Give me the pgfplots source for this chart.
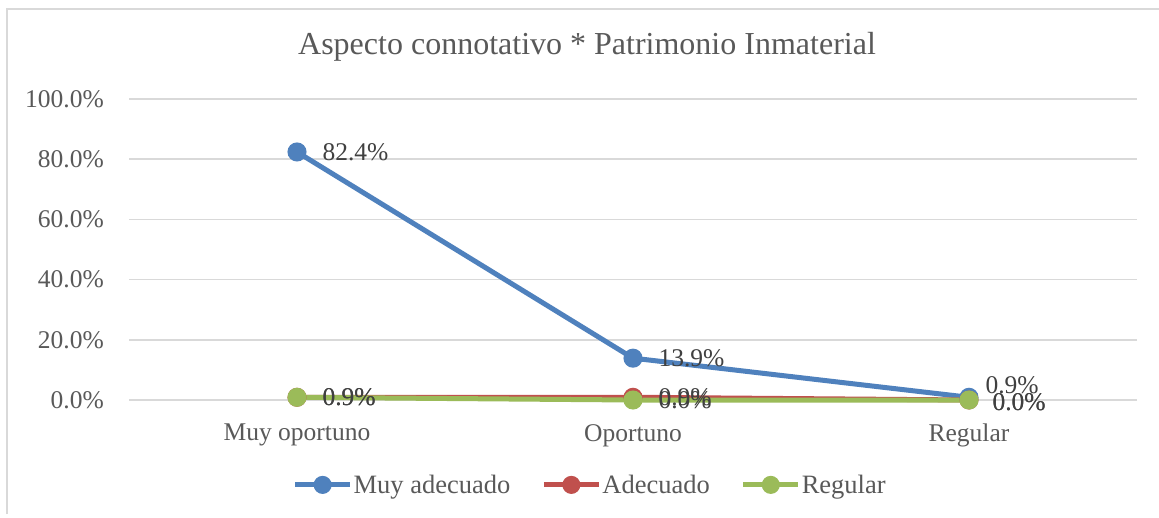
\documentclass[border=0pt]{standalone}
\usepackage{pgfplots}
\pgfplotsset{compat=1.18}
\usepackage{pgfplotstable}
\usepackage{fontspec}
\setmainfont{Liberation Serif}
\definecolor{cblue}{RGB}{79,129,189}
\definecolor{cred}{RGB}{192,80,77}
\definecolor{cgreen}{RGB}{155,187,89}
\definecolor{ctext}{RGB}{89,89,89}
\definecolor{clabel}{RGB}{64,64,64}
\definecolor{cgrid}{RGB}{217,217,217}

\pgfplotstableread{
x y dx dy
0 82.4 23 0
1 13.9 23 0
2 0.9 14 12
}\tblMuy
\pgfplotstableread{
x y dx dy
0 0.9 23 0
1 0.9 23 0
2 0.0 21 -2
}\tblAde
\pgfplotstableread{
x y dx dy
0 0.9 23 0
1 0.0 23 0
2 0.0 21 -2
}\tblReg

\begin{document}
\begin{tikzpicture}[x=1pt,y=1pt]
\useasboundingbox (0,0) rectangle (1159,517);
\fill[white] (0,0) rectangle (1159,517);
\draw[cgrid, line width=2pt] (7,3) -- (7,508) -- (1159,508);
\node[text=ctext, font=\fontsize{32}{38}\selectfont] at (587,470) {Aspecto connotativo * Patrimonio Inmaterial};
\begin{axis}[
  at={(129pt,117pt)}, anchor=south west,
  scale only axis, width=1008pt, height=301pt,
  xmin=-0.5, xmax=2.5, ymin=0, ymax=100,
  axis line style={draw=none},
  major tick length=0pt,
  xtick={0,1,2}, xticklabels={Muy oportuno, Oportuno, Regular},
  ytick={0,20,40,60,80,100},
  ymajorgrids, grid style={cgrid, line width=1.5pt},
  /pgf/number format/assume math mode=true,
  yticklabel={\pgfmathprintnumber[fixed,fixed zerofill,precision=1]{\tick}\%},
  ticklabel style={text=ctext, font=\fontsize{25.5}{30}\selectfont},
  yticklabel style={anchor=east, inner sep=0pt, xshift=-25pt},
  xticklabel style={anchor=north, inner sep=0pt, yshift=-24pt},
  legend columns=3,
  legend style={at={(0.457,-0.282)}, anchor=center, draw=none, fill=none,
    font=\fontsize{26.5}{30}\selectfont, text=ctext,
    nodes={inner sep=1pt},
    /tikz/every even column/.append style={column sep=30pt}},
  legend image code/.code={\draw[mark repeat=2,mark phase=2,#1,mark size=6.5pt] plot coordinates {(0pt,0pt) (27.5pt,0pt) (55pt,0pt)};},
  every axis plot/.append style={line width=5pt, mark=*, mark size=7pt, mark options={solid}},
  clip=false,
]
\pgfplotsset{
  lbl/.style={
    point meta=y,
    nodes near coords={\pgfmathprintnumber[fixed,fixed zerofill,precision=1]{\pgfplotspointmeta}\%},
    nodes near coords style={anchor=west, inner sep=0pt, text=clabel, font=\fontsize{25.5}{30}\selectfont},
    visualization depends on={\thisrow{dx} \as \dx},
    visualization depends on={\thisrow{dy} \as \dy},
    every node near coord/.append style={xshift=\dx pt, yshift=\dy pt},
  }
}
\addplot[color=cblue, lbl] table[x=x,y=y] {\tblMuy};
\addlegendentry{Muy adecuado}
\addplot[color=cred, lbl] table[x=x,y=y] {\tblAde};
\addlegendentry{Adecuado}
\addplot[color=cgreen, lbl] table[x=x,y=y] {\tblReg};
\addlegendentry{Regular}
\end{axis}
\end{tikzpicture}
\end{document}
